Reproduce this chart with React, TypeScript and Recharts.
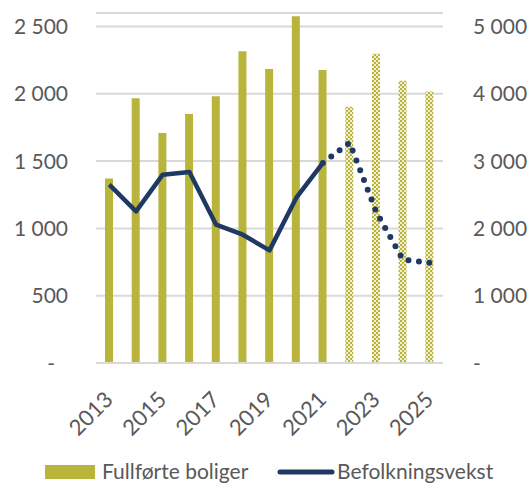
import React from "react";
import { ComposedChart, Bar, Line, XAxis, YAxis, CartesianGrid, Legend, Cell } from "recharts";

const years = ["2013", "2014", "2015", "2016", "2017", "2018", "2019", "2020", "2021", "2022", "2023", "2024", "2025"];
const boliger = [1370, 1966, 1709, 1850, 1981, 2315, 2184, 2575, 2177, 1904, 2298, 2097, 2016];
const befolkning = [2649, 2253, 2798, 2838, 2055, 1906, 1673, 2452, 2972, null, null, null, null];
const befolkningPrognose = [null, null, null, null, null, null, null, null, 2972, 3273, 2244, 1535, 1490];
const prognoseFra = 9; // 2022 og utover er prognose
const venstreTicks = [0, 500, 1000, 1500, 2000, 2500];
const hoyreTicks = [0, 1000, 2000, 3000, 4000, 5000];

const data = years.map((year, i) => ({
  year,
  boliger: boliger[i],
  befolkning: befolkning[i],
  prognose: befolkningPrognose[i],
}));

const OLIVEN = "#b8b43c";
const MARINE = "#1f3864";
const GRA = "#595959";
const FONT = "Lato, 'Open Sans', sans-serif";

const fmt = (v: number) => String(v).replace(/\B(?=(\d{3})+(?!\d))/g, " ");

const VenstreTick = (props: any) => {
  const { y, payload } = props;
  if (payload.value === 0) {
    return (
      <text x={55} y={y} dy={7.5} textAnchor="end" fill={GRA} fontSize={21} fontFamily={FONT}>-</text>
    );
  }
  return (
    <text x={68} y={y} dy={7.5} textAnchor="end" fill={GRA} fontSize={21} fontFamily={FONT}>
      {fmt(payload.value)}
    </text>
  );
};

const HoyreTick = (props: any) => {
  const { y, payload } = props;
  return (
    <text x={473} y={y} dy={7.5} textAnchor="start" fill={GRA} fontSize={21} fontFamily={FONT}>
      {payload.value === 0 ? "-" : fmt(payload.value)}
    </text>
  );
};

const AarTick = (props: any) => {
  const { x, y, payload } = props;
  return (
    <g transform={`translate(${x + 5},${y + 30})`}>
      <text transform="rotate(-45)" textAnchor="end" fill={GRA} fontSize={22} fontFamily={FONT}>
        {payload.value}
      </text>
    </g>
  );
};

// litt hevet så nedhengene i teksten ikke kuttes
const Tegnforklaring = () => (
  <svg width={529} height={36} style={{ display: "block" }}>
    <rect x={45} y={17} width={50} height={14} fill={OLIVEN} />
    <text x={102} y={31} fill={GRA} fontSize={21} fontFamily={FONT}>Fullførte boliger</text>
    <line x1={280} y1={24} x2={332} y2={24} stroke={MARINE} strokeWidth={5} strokeLinecap="round" />
    <text x={337} y={31} fill={GRA} fontSize={21} fontFamily={FONT}>Befolkningsvekst</text>
  </svg>
);

export default function App() {
  return (
    <div style={{ position: "absolute", left: 0, top: 0, width: 529, height: 484, background: "#fff" }}>
      <ComposedChart width={529} height={484} data={data} margin={{ top: 13, right: 0, left: 0, bottom: 0 }}>
        <defs>
          <pattern id="rute" width="4" height="4" patternUnits="userSpaceOnUse">
            <rect width="4" height="4" fill="#f1efd2" />
            <rect x="0" y="0" width="2" height="2" fill={OLIVEN} />
            <rect x="2" y="2" width="2" height="2" fill={OLIVEN} />
          </pattern>
        </defs>
        <CartesianGrid yAxisId="v" vertical={false} stroke="#d9d9d9" strokeWidth={2} />
        <XAxis
          dataKey="year"
          height={85}
          interval={1}
          tick={<AarTick />}
          tickLine={false}
          axisLine={{ stroke: "#d9d9d9", strokeWidth: 2 }}
        />
        <YAxis
          yAxisId="v"
          orientation="left"
          width={96}
          domain={[0, 2600]}
          ticks={venstreTicks}
          tick={<VenstreTick />}
          axisLine={false}
          tickLine={false}
        />
        <YAxis
          yAxisId="h"
          orientation="right"
          width={86}
          domain={[0, 5200]}
          ticks={hoyreTicks}
          tick={<HoyreTick />}
          axisLine={false}
          tickLine={false}
        />
        <Bar yAxisId="v" dataKey="boliger" name="Fullførte boliger" barSize={8} fill={OLIVEN} isAnimationActive={false}>
          {data.map((d, i) => (
            <Cell key={d.year} fill={i >= prognoseFra ? "url(#rute)" : OLIVEN} />
          ))}
        </Bar>
        <Line
          yAxisId="h"
          dataKey="befolkning"
          name="Befolkningsvekst"
          stroke={MARINE}
          strokeWidth={4.5}
          strokeLinejoin="round"
          dot={false}
          isAnimationActive={false}
        />
        <Line
          yAxisId="h"
          dataKey="prognose"
          stroke={MARINE}
          strokeWidth={6}
          strokeDasharray="0 10.5"
          strokeLinecap="round"
          dot={false}
          legendType="none"
          isAnimationActive={false}
        />
        <Legend verticalAlign="bottom" height={36} content={<Tegnforklaring />} wrapperStyle={{ left: 0, width: 529 }} />
      </ComposedChart>
    </div>
  );
}
